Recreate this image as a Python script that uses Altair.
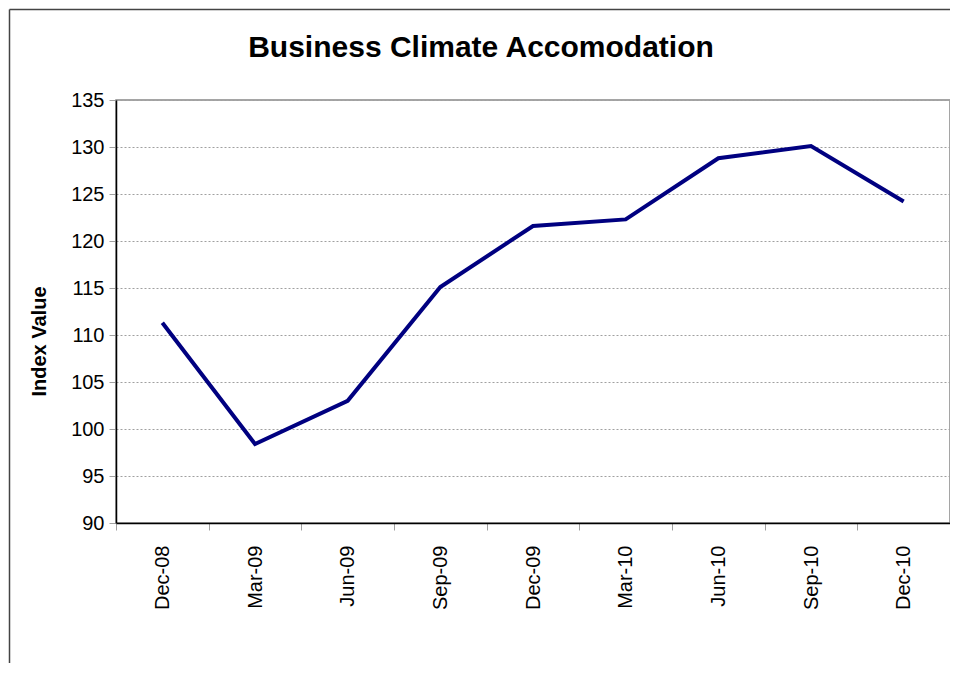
import altair as alt
import pandas as pd

title_text = ["Business Climate Accomodation"]
months = ["Dec-08", "Mar-09", "Jun-09", "Sep-09", "Dec-09", "Mar-10", "Jun-10", "Sep-10", "Dec-10"]
values = [111.3, 98.4, 103.0, 115.1, 121.6, 122.3, 128.8, 130.1, 124.2]
y_ticks = [90, 95, 100, 105, 110, 115, 120, 125, 130, 135]

df = pd.DataFrame({"month": months, "value": values})

W, H = 834, 423
PAD_L, PAD_T, PAD_R, PAD_B = 108, 92, 0, 140
FONT = "Liberation Sans"

line = alt.Chart(df).mark_line(color="#000080", strokeWidth=4).encode(
    x=alt.X(
        "month:N",
        sort=months,
        bandPosition=0.5,
        scale=alt.Scale(type="band", paddingInner=0, paddingOuter=0),
        axis=alt.Axis(
            title=None,
            labelAngle=270,
            labelAlign="right",
            labelBaseline="middle",
            labelFont=FONT,
            labelFontSize=20,
            labelColor="black",
            labelPadding=15,
            tickBand="extent",
            tickSize=7,
            tickColor="#a0a0a0",
            domainColor="black",
            domainWidth=1.5,
            grid=False,
        ),
    ),
    y=alt.Y(
        "value:Q",
        scale=alt.Scale(domain=[90, 135], nice=False, zero=False),
        axis=alt.Axis(
            title="Index Value",
            titleFont=FONT,
            titleFontSize=20,
            titleFontWeight="bold",
            titleColor="black",
            titleAngle=270,
            titleAlign="center",
            titleBaseline="middle",
            titleX=-77,
            titleY=241,
            values=y_ticks,
            labelFont=FONT,
            labelFontSize=20,
            labelColor="black",
            labelPadding=5,
            tickSize=7,
            tickColor="#a0a0a0",
            domainColor="black",
            domainWidth=1.5,
            grid=True,
            gridColor="#a0a0a0",
            gridDash=[2, 2],
            gridWidth=1,
        ),
    ),
)

frame_data = alt.Data(values=[{"k": 0}])
left_frame = alt.Chart(frame_data).mark_rule(color="#444444", strokeWidth=1.5).encode(
    x=alt.value(-106.5), y=alt.value(-90.5), y2=alt.value(H + PAD_B)
)
top_frame = alt.Chart(frame_data).mark_rule(color="#444444", strokeWidth=1.5).encode(
    x=alt.value(-106.5), x2=alt.value(W + PAD_R), y=alt.value(-90.5)
)

title_df = pd.DataFrame({"t": title_text})
title = alt.Chart(title_df).mark_text(
    font=FONT,
    fontSize=30,
    fontWeight="bold",
    color="black",
    align="center",
    baseline="alphabetic",
).encode(text="t:N", x=alt.value(365), y=alt.value(-43))

chart = alt.layer(left_frame, top_frame, title, line).properties(
    width=W,
    height=H,
    autosize=alt.AutoSizeParams(type="none"),
    padding={"left": PAD_L, "top": PAD_T, "right": PAD_R, "bottom": PAD_B},
).configure_view(stroke="#888888", strokeWidth=1.5)

chart.save("out.html", embed_options={"renderer": "svg", "actions": False})
